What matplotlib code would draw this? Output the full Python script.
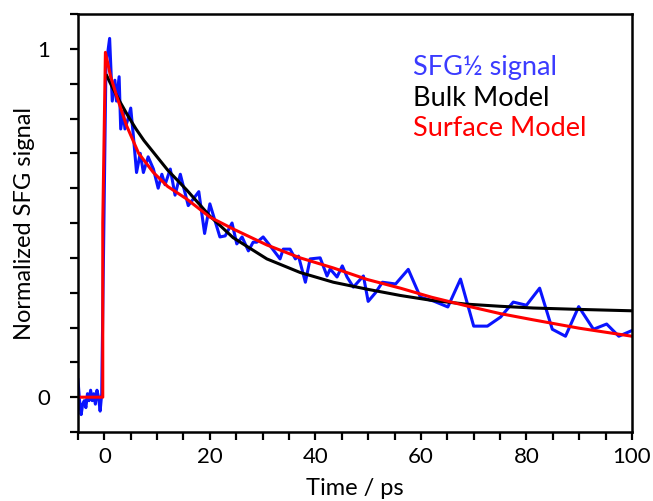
import numpy as np
import matplotlib.pyplot as plt
from matplotlib.ticker import MultipleLocator, FixedLocator

plt.rcParams['font.family'] = ['Lato', 'DejaVu Sans']

t_sig = [-5.0, -4.7, -4.4, -4.1, -3.8, -3.5, -3.2, -2.9, -2.6, -2.3, -2.0, -1.7, -1.4, -1.1, -0.8, -0.5,
         0.3, 1.0, 1.5, 2.0, 2.3, 2.8, 3.1, 3.6, 3.9, 4.5, 5.0, 5.5, 6.1, 6.8, 7.4, 8.3, 9.3, 10.2,
         10.9, 11.5, 12.5, 13.4, 14.4, 15.9, 17.9, 19.0, 20.0, 21.9, 22.9, 24.2, 25.1, 26.1, 27.3,
         28.2, 28.9, 30.1, 31.4, 33.3, 33.9, 35.2, 36.2, 36.8, 38.1, 39.0, 40.9, 42.2, 42.8, 44.1,
         45.1, 46.0, 47.2, 49.1, 50.0, 51.4, 52.7, 55.2, 57.6, 59.9, 62.4, 65.1, 67.5, 70.0, 72.6,
         75.1, 77.5, 80.0, 82.5, 84.9, 87.4, 89.9, 92.7, 95.2, 97.5, 99.8]
s_sig = [0.05, -0.01, -0.05, -0.02, -0.01, -0.03, 0.01, -0.01, 0.02, -0.01, 0.01, -0.02, 0.02, 0.0, -0.04, 0.01,
         0.95, 1.03, 0.85, 0.91, 0.85, 0.92, 0.77, 0.82, 0.77, 0.80, 0.83, 0.75, 0.645, 0.70, 0.645, 0.69, 0.655, 0.60,
         0.64, 0.61, 0.655, 0.58, 0.64, 0.55, 0.59, 0.47, 0.555, 0.46, 0.463, 0.50, 0.44, 0.46, 0.42,
         0.445, 0.445, 0.46, 0.435, 0.397, 0.425, 0.425, 0.397, 0.405, 0.33, 0.397, 0.40, 0.348, 0.368, 0.345,
         0.377, 0.345, 0.316, 0.348, 0.275, 0.30, 0.33, 0.325, 0.367, 0.287, 0.276, 0.259, 0.339, 0.204, 0.204,
         0.23, 0.273, 0.264, 0.313, 0.195, 0.175, 0.26, 0.195, 0.21, 0.175, 0.19]

# bulk model curve
t_bulk = [0.45, 1.5, 3.0, 4.5, 6.0, 7.5, 9.3, 12.0, 15.6, 20.0, 24.4, 30.8, 37.1, 43.4, 49.8, 56.1, 62.0, 68.7, 75.0, 81.3, 90.0, 100.0]
s_bulk = [0.923, 0.89, 0.847, 0.807, 0.77, 0.737, 0.703, 0.652, 0.595, 0.52, 0.458, 0.397, 0.358, 0.33, 0.31, 0.292, 0.278, 0.267, 0.261, 0.256, 0.252, 0.248]

# surface model curve
t_surf = [-5.0, -0.3, -0.3, 0.2, 1.2, 2.3, 4.2, 6.5, 9.3, 12.0, 15.6, 20.0, 24.4, 30.8, 37.1, 43.4, 49.8, 56.1, 62.0, 68.7, 75.0, 81.3, 90.0, 100.0]
s_surf = [0.0, 0.0, 0.5, 0.99, 0.92, 0.866, 0.78, 0.70, 0.645, 0.605, 0.569, 0.517, 0.483, 0.437, 0.40, 0.371, 0.338, 0.313, 0.287, 0.262, 0.24, 0.222, 0.198, 0.175]

fig = plt.figure(figsize=(6.53, 5.01), dpi=100)
ax = fig.add_axes([0.1194, 0.1377, 0.8484, 0.8343])

ax.plot(t_sig, s_sig, color='#0a14ff', lw=2.2)
ax.plot(t_bulk, s_bulk, color='black', lw=2.2)
ax.plot(t_surf, s_surf, color='#ff0000', lw=2.2)

ax.set_xlim(-5, 100)
ax.set_ylim(-0.1, 1.1)

ax.xaxis.set_major_locator(FixedLocator([0, 20, 40, 60, 80, 100]))
ax.xaxis.set_minor_locator(MultipleLocator(5))
ax.yaxis.set_major_locator(FixedLocator([0, 1]))
ax.yaxis.set_minor_locator(MultipleLocator(0.1))
ax.tick_params(which='both', direction='out', width=1.6, length=6, labelsize=16, colors='black')
ax.tick_params(axis='x', pad=5)
ax.tick_params(axis='y', pad=14)
for sp in ax.spines.values():
    sp.set_linewidth(1.8)

ax.set_xlabel('Time / ps', fontsize=17, labelpad=8)
ax.set_ylabel('Normalized SFG signal', fontsize=17, labelpad=2)

ax.text(0.605, 0.871, 'SFG½ signal', color='#3b3bff', fontsize=19.5, transform=ax.transAxes, va='center')
ax.text(0.605, 0.799, 'Bulk Model', color='black', fontsize=19.5, transform=ax.transAxes, va='center')
ax.text(0.605, 0.727, 'Surface Model', color='#ff0000', fontsize=19.5, transform=ax.transAxes, va='center')

plt.savefig('out.png', dpi=100)
